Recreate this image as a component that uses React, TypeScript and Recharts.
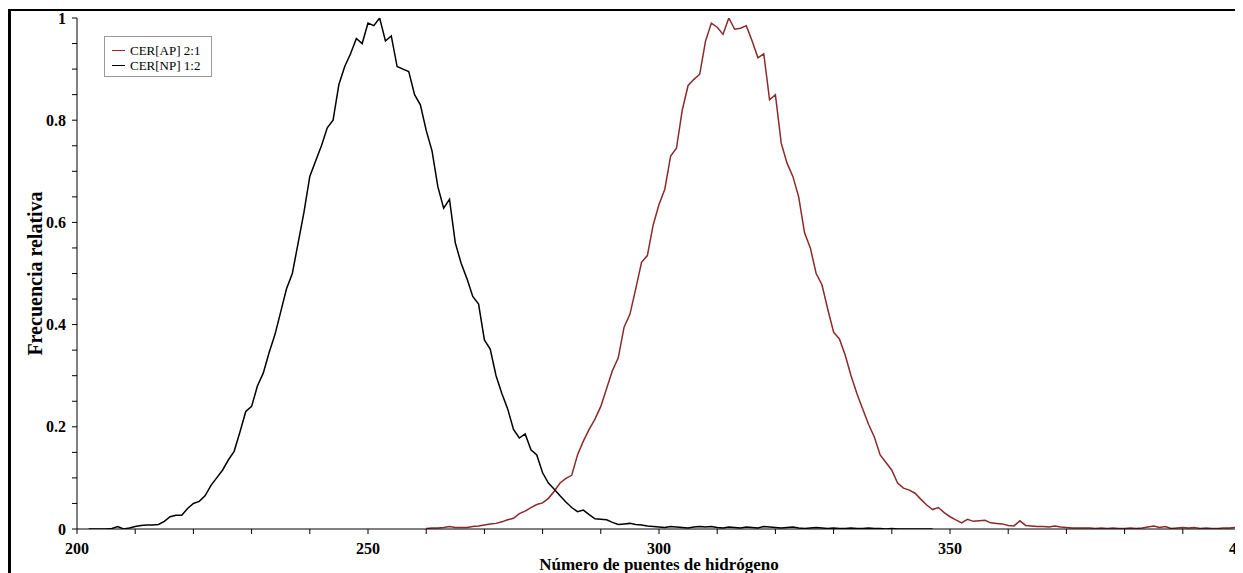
import React from 'react';
import { LineChart, Line, XAxis, YAxis, Legend } from 'recharts';

// Relative frequency of hydrogen-bond counts, one value per integer count.
const npStart = 202;
const npValues = [
  0.000, 0.000, 0.000, 0.000, 0.001, 0.005, 0.000, 0.002, 0.005, 0.007,
  0.008, 0.008, 0.009, 0.015, 0.024, 0.027, 0.027, 0.040, 0.050, 0.054,
  0.065, 0.085, 0.100, 0.115, 0.135, 0.152, 0.190, 0.230, 0.240, 0.280,
  0.305, 0.345, 0.380, 0.425, 0.470, 0.500, 0.560, 0.620, 0.690, 0.720,
  0.750, 0.785, 0.800, 0.870, 0.905, 0.930, 0.960, 0.950, 0.990, 0.985,
  1.000, 0.955, 0.965, 0.905, 0.900, 0.895, 0.850, 0.830, 0.780, 0.740,
  0.670, 0.628, 0.645, 0.560, 0.520, 0.490, 0.455, 0.440, 0.370, 0.352,
  0.300, 0.265, 0.235, 0.195, 0.178, 0.186, 0.155, 0.145, 0.110, 0.090,
  0.078, 0.065, 0.053, 0.042, 0.034, 0.037, 0.028, 0.020, 0.019, 0.018,
  0.013, 0.009, 0.010, 0.011, 0.009, 0.008, 0.006, 0.005, 0.004, 0.003,
  0.005, 0.004, 0.003, 0.002, 0.004, 0.005, 0.004, 0.005, 0.003, 0.002,
  0.004, 0.003, 0.002, 0.004, 0.003, 0.002, 0.005, 0.004, 0.003, 0.002,
  0.003, 0.004, 0.002, 0.001, 0.002, 0.003, 0.002, 0.001, 0.002, 0.001,
  0.001, 0.002, 0.001, 0.001, 0.002, 0.001, 0.001, 0.000, 0.001, 0.000,
  0.000, 0.000, 0.000, 0.000, 0.000, 0.000,
];

const apStart = 260;
const apValues = [
  0.001, 0.002, 0.002, 0.003, 0.005, 0.003, 0.003, 0.003, 0.005, 0.006,
  0.008, 0.010, 0.011, 0.014, 0.018, 0.021, 0.030, 0.035, 0.042, 0.048,
  0.051, 0.060, 0.074, 0.090, 0.099, 0.105, 0.145, 0.172, 0.195, 0.215,
  0.240, 0.275, 0.310, 0.335, 0.395, 0.420, 0.470, 0.522, 0.535, 0.595,
  0.635, 0.665, 0.730, 0.745, 0.820, 0.868, 0.880, 0.890, 0.955, 0.990,
  0.982, 0.968, 1.000, 0.978, 0.980, 0.985, 0.955, 0.922, 0.930, 0.840,
  0.850, 0.755, 0.716, 0.690, 0.650, 0.580, 0.550, 0.500, 0.478, 0.430,
  0.385, 0.372, 0.340, 0.300, 0.265, 0.235, 0.205, 0.180, 0.145, 0.130,
  0.115, 0.090, 0.080, 0.076, 0.070, 0.058, 0.047, 0.038, 0.042, 0.032,
  0.024, 0.018, 0.012, 0.019, 0.015, 0.016, 0.017, 0.012, 0.011, 0.010,
  0.007, 0.006, 0.016, 0.007, 0.006, 0.005, 0.005, 0.004, 0.006, 0.004,
  0.003, 0.002, 0.002, 0.002, 0.002, 0.001, 0.002, 0.001, 0.002, 0.001,
  0.001, 0.002, 0.001, 0.002, 0.004, 0.006, 0.003, 0.005, 0.001, 0.002,
  0.003, 0.002, 0.003, 0.001, 0.002, 0.001, 0.001, 0.002, 0.002, 0.003,
  0.004,
];

const xTicks = [200, 210, 220, 230, 240, 250, 260, 270, 280, 290, 300, 310, 320, 330, 340, 350, 360, 370, 380, 390, 400];
const xLabelTicks = [200, 250, 300, 350, 400];
const yTicks = [0, 0.05, 0.1, 0.15, 0.2, 0.25, 0.3, 0.35, 0.4, 0.45, 0.5, 0.55, 0.6, 0.65, 0.7, 0.75, 0.8, 0.85, 0.9, 0.95, 1];
const yLabelTicks = [0, 0.2, 0.4, 0.6, 0.8, 1];

const series = [
  { name: 'CER[AP] 2:1', color: '#8b2a2a', start: apStart, values: apValues },
  { name: 'CER[NP] 1:2', color: '#000000', start: npStart, values: npValues },
];

const toPoints = (start: number, values: number[]) =>
  values.map((y, i) => ({ x: start + i, y }));

const SERIF = '"Liberation Serif", "Times New Roman", serif';

const tickStyle = { fontFamily: SERIF, fontWeight: 700, fontSize: 16, fill: '#000' };

const formatX = (v: number) => (xLabelTicks.includes(v) ? String(v) : '');
const formatY = (v: number) => {
  const hit = yLabelTicks.find((t) => Math.abs(t - v) < 1e-9);
  return hit === undefined ? '' : String(hit);
};

const YTitle = (props: any) => {
  const vb = props.viewBox || {};
  const cx = vb.x + 18;
  const cy = vb.y + vb.height / 2;
  return (
    <text
      x={cx}
      y={cy}
      transform={`rotate(-90, ${cx}, ${cy})`}
      textAnchor="middle"
      dominantBaseline="central"
      style={{ fontFamily: SERIF, fontWeight: 700, fontSize: 20, fill: '#000' }}
    >
      Frecuencia relativa
    </text>
  );
};

const XTitle = (props: any) => {
  const vb = props.viewBox || {};
  const cx = vb.x + vb.width / 2;
  const cy = vb.y + 41;
  return (
    <text
      x={cx}
      y={cy}
      textAnchor="middle"
      style={{ fontFamily: SERIF, fontWeight: 700, fontSize: 17, fill: '#000' }}
    >
      Número de puentes de hidrógeno
    </text>
  );
};

const LegendBox = () => (
  <div
    style={{
      boxSizing: 'border-box',
      width: 108,
      height: 41,
      border: '1px solid #9a9a9a',
      background: '#fff',
      padding: '6px 0 0 7px',
      fontFamily: SERIF,
      fontSize: 13,
      lineHeight: '15px',
      color: '#000',
    }}
  >
    {series.map((s) => (
      <div key={s.name} style={{ display: 'flex', alignItems: 'center', height: 15 }}>
        <span style={{ display: 'inline-block', width: 13, height: 0, borderTop: `1.5px solid ${s.color}`, marginRight: 5 }} />
        <span>{s.name}</span>
      </div>
    ))}
  </div>
);

export default function App() {
  return (
    <div style={{ position: 'relative', width: 1235, height: 565 }}>
      <div style={{ position: 'absolute', left: 0, top: 1, width: 1235, height: 2, background: '#000' }} />
      <div style={{ position: 'absolute', left: 0, top: 1, width: 3, height: 564, background: '#000' }} />
      <LineChart width={1235} height={565} margin={{ top: 10, right: 2, bottom: 0, left: 9 }}>
        <XAxis
          dataKey="x"
          type="number"
          domain={[200, 400]}
          allowDataOverflow
          ticks={xTicks}
          interval={0}
          tickFormatter={formatX}
          tickSize={5}
          tickMargin={9}
          height={44}
          tick={tickStyle}
          stroke="#000"
          label={<XTitle />}
        />
        <XAxis
          xAxisId="top"
          orientation="top"
          type="number"
          domain={[200, 400]}
          height={0}
          tick={false}
          tickLine={false}
          stroke="#000"
        />
        <YAxis
          type="number"
          domain={[0, 1]}
          allowDataOverflow
          ticks={yTicks}
          interval={0}
          tickFormatter={formatY}
          tickSize={5}
          tickMargin={6}
          width={60}
          tick={tickStyle}
          stroke="#000"
          label={<YTitle />}
        />
        <Legend
          layout="horizontal"
          align="center"
          verticalAlign="middle"
          content={<LegendBox />}
          wrapperStyle={{ top: 28, left: 96, width: 108, height: 41 }}
        />
        {series.map((s) => (
          <Line
            key={s.name}
            name={s.name}
            data={toPoints(s.start, s.values)}
            dataKey="y"
            type="linear"
            dot={false}
            activeDot={false}
            stroke={s.color}
            strokeWidth={1.5}
            isAnimationActive={false}
          />
        ))}
      </LineChart>
    </div>
  );
}
